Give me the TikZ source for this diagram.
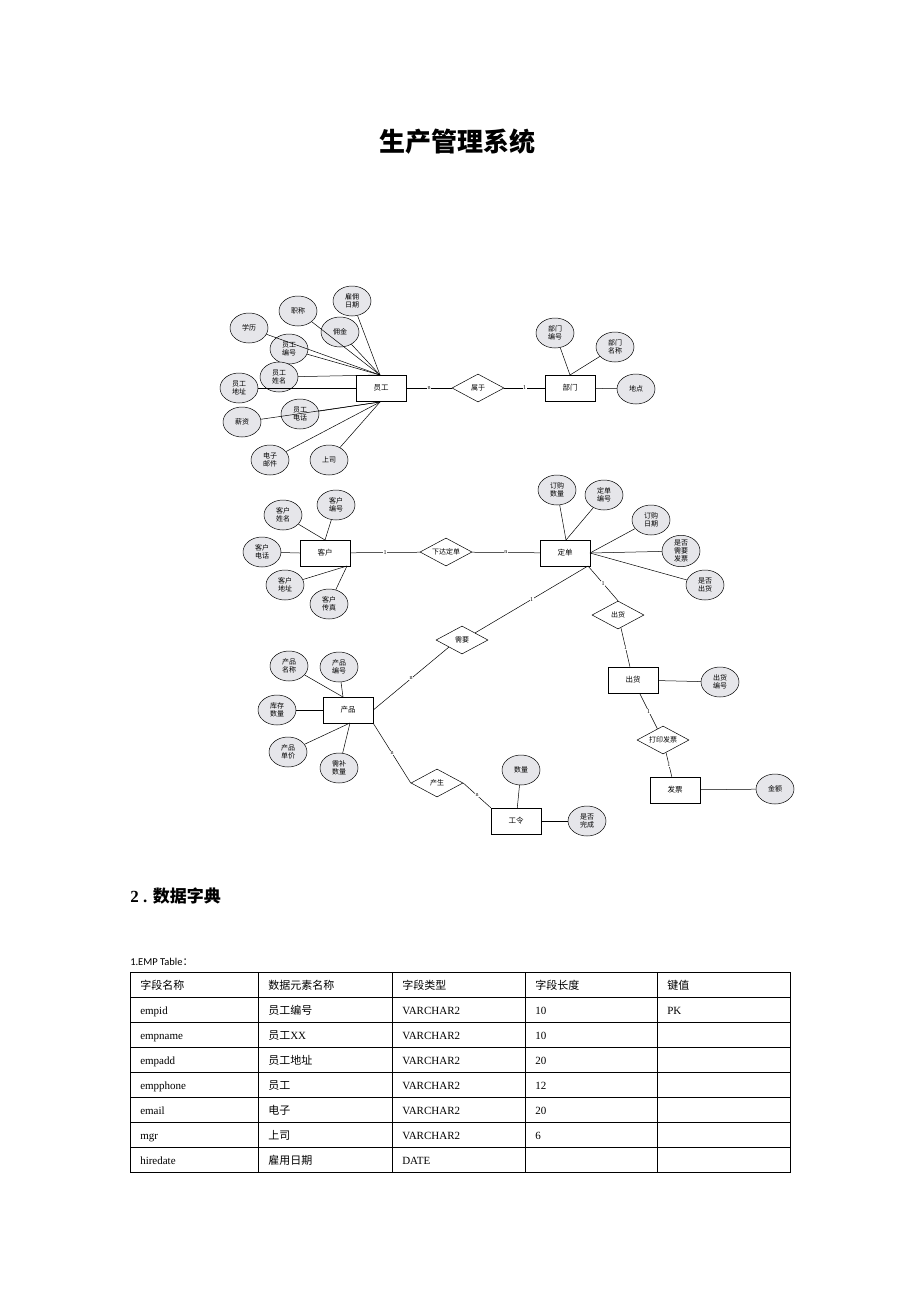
\documentclass[tikz,border=0pt]{standalone}
\usepackage{fontspec}
\setmainfont{Liberation Serif}
\newfontfamily\cjk{Noto Sans CJK SC}
\newfontfamily\calfont{Carlito}
\usetikzlibrary{shapes.geometric}
\begin{document}
\begin{tikzpicture}[x=1pt,y=-1pt,
 attr/.style={ellipse,draw,fill=blue!10!gray!18,minimum width=38pt,minimum height=30pt,inner sep=0pt,align=center,font=\cjk\fontsize{7}{8}\selectfont},
 ent/.style={rectangle,draw,minimum width=50pt,minimum height=26pt,font=\cjk\fontsize{7.5}{8}\selectfont},
 rel/.style={diamond,draw,aspect=1.9,minimum width=52pt,minimum height=28pt,inner sep=0pt,font=\cjk\fontsize{7}{8}\selectfont},
 card/.style={font=\fontsize{6}{6}\selectfont,fill=white,inner sep=0.5pt},
 cell/.style={anchor=base west,font=\fontsize{11}{12}\selectfont,inner sep=0pt},
 every path/.style={line width=0.5pt}]
\useasboundingbox (0,0) rectangle (920,1302);
\node[font=\cjk\bfseries\fontsize{26}{28}\selectfont] (title) at (457,142) {生产管理系统};
% group 1
\node[ent] (yg) at (381,388) {员工};
\node[rel] (sy) at (478,388) {属于};
\node[ent] (bm) at (570,388) {部门};
\node[attr] (dd) at (636,389) {地点};
\node[attr] (bmbh) at (555,333) {部门\\编号};
\node[attr] (bmmc) at (615,347) {部门\\名称};
\node[attr] (xl) at (249,328) {学历};
\node[attr] (zc) at (298,311) {职称};
\node[attr] (gy) at (352,301) {雇佣\\日期};
\node[attr] (yj) at (340,332) {佣金};
\node[attr] (ygbh) at (289,349) {员工\\编号};
\node[attr] (ygxm) at (279,377) {员工\\姓名};
\node[attr] (ygdz) at (239,388) {员工\\地址};
\node[attr] (xz) at (242,422) {薪资};
\node[attr] (ygdh) at (300,414) {员工\\电话};
\node[attr] (dzyj) at (270,460) {电子\\邮件};
\node[attr] (ss) at (329,460) {上司};
\coordinate (ygt) at (380,375);
\coordinate (ygb) at (380,402);
\foreach \a in {xl,zc,gy,yj,ygbh,ygxm} \draw (ygt) -- (\a);
\draw (yg.west) -- (ygdz);
\foreach \a in {xz,ygdh,dzyj,ss} \draw (ygb) -- (\a);
\draw (yg) -- node[card]{n} (sy);
\draw (sy) -- node[card]{1} (bm);
\draw (bm) -- (dd);
\coordinate (bmt) at (570,375);
\draw (bmt) -- (bmbh); \draw (bmt) -- (bmmc);
% group 2
\node[ent] (kh) at (325,553) {客户};
\node[rel] (xd) at (446,552) {下达定单};
\node[ent] (dj) at (565,553) {定单};
\node[attr] (khxm) at (283,515) {客户\\姓名};
\node[attr] (khbh) at (336,505) {客户\\编号};
\node[attr] (khdh) at (262,552) {客户\\电话};
\node[attr] (khdz) at (285,585) {客户\\地址};
\node[attr] (khcz) at (329,604) {客户\\传真};
\coordinate (kht) at (325,540); \coordinate (khb) at (347,566);
\draw (kht) -- (khxm); \draw (kht) -- (khbh); \draw (kh.west) -- (khdh);
\draw (khb) -- (khdz); \draw (khb) -- (khcz);
\draw (kh) -- node[card]{1} (xd);
\draw (xd) -- node[card]{n} (dj);
\node[attr] (dgsl) at (557,490) {订购\\数量};
\node[attr] (djbh) at (604,495) {定单\\编号};
\node[attr] (dgrq) at (651,520) {订购\\日期};
\node[attr] (sfxy) at (681,551) {是否\\需要\\发票};
\node[attr] (sfch) at (705,585) {是否\\出货};
\coordinate (djt) at (566,540); \coordinate (djr) at (590,553);
\draw (djt) -- (dgsl); \draw (djt) -- (djbh);
\draw (djr) -- (dgrq); \draw (djr) -- (sfxy); \draw (djr) -- (sfch);
\node[rel] (chr) at (618,615) {出货};
\node[rel] (xy) at (462,640) {需要};
\coordinate (djb) at (588,566);
\draw (djb) -- node[card]{1} (xy.north east);
\draw (djb) -- node[card]{1} (chr.north);
% group 3
\node[ent] (cp) at (348,710) {产品};
\node[attr] (cpmc) at (289,666) {产品\\名称};
\node[attr] (cpbh) at (339,667) {产品\\编号};
\node[attr] (kcsl) at (277,710) {库存\\数量};
\node[attr] (cpdj) at (288,752) {产品\\单价};
\node[attr] (xbsl) at (339,768) {需补\\数量};
\coordinate (cpt) at (343,697); \coordinate (cpb) at (350,723);
\draw (cpt) -- (cpmc); \draw (cpt) -- (cpbh); \draw (cp.west) -- (kcsl);
\draw (cpb) -- (cpdj); \draw (cpb) -- (xbsl);
\draw (cp.east) -- node[card]{n} (xy.south west);
\node[rel] (cs) at (437,783) {产生};
\node[ent] (gl) at (516,821) {工令};
\node[attr] (sl) at (521,770) {数量};
\node[attr] (sfwc) at (587,821) {是否\\完成};
\draw (cp.south east) -- node[card]{n} (cs.west);
\draw (cs.east) -- node[card]{n} (gl.north west);
\draw (gl) -- (sl); \draw (gl) -- (sfwc);
\node[ent] (ch) at (633,680) {出货};
\node[attr] (chbh) at (720,682) {出货\\编号};
\node[rel] (dy) at (663,740) {打印发票};
\node[ent] (fp) at (675,790) {发票};
\node[attr] (je) at (775,789) {金额};
\draw (chr) -- node[card]{1} (ch);
\draw (ch) -- (chbh);
\draw (ch) -- node[card]{1} (dy);
\draw (dy) -- node[card]{1} (fp);
\draw (fp) -- (je);
% section
\node[anchor=west,inner sep=0pt,font=\bfseries\fontsize{17}{20}\selectfont] (sec) at (130,896) {2 . {\cjk 数据字典}};
\node[anchor=west,inner sep=0pt,font=\calfont\fontsize{10.5}{12}\selectfont] (tl) at (130,962) {1.EMP Table{\cjk ：}};
% table
\draw (130,972) rectangle (790,1172);
\foreach \y in {997,1022,1047,1072,1097,1122,1147} \draw (130,\y) -- (790,\y);
\foreach \x in {258,392,525,657} \draw (\x,972) -- (\x,1172);
\foreach \va/\vb/\vc/\vd/\ve [count=\i from 0] in {
 {\cjk 字段名称}/{\cjk 数据元素名称}/{\cjk 字段类型}/{\cjk 字段长度}/{\cjk 键值},
 empid/{\cjk 员工编号}/VARCHAR2/10/PK,
 empname/{\cjk 员工}XX/VARCHAR2/10/{},
 empadd/{\cjk 员工地址}/VARCHAR2/20/{},
 empphone/{\cjk 员工}/VARCHAR2/12/{},
 email/{\cjk 电子}/VARCHAR2/20/{},
 mgr/{\cjk 上司}/VARCHAR2/6/{},
 hiredate/{\cjk 雇用日期}/DATE/{}/{}} {
 \node[cell] (c\i a) at (140,989+25*\i) {\va};
 \node[cell] (c\i b) at (268,989+25*\i) {\vb};
 \node[cell] (c\i c) at (402,989+25*\i) {\vc};
 \node[cell] (c\i d) at (535,989+25*\i) {\vd};
 \node[cell] (c\i e) at (667,989+25*\i) {\ve};
}
\end{tikzpicture}
\end{document}
